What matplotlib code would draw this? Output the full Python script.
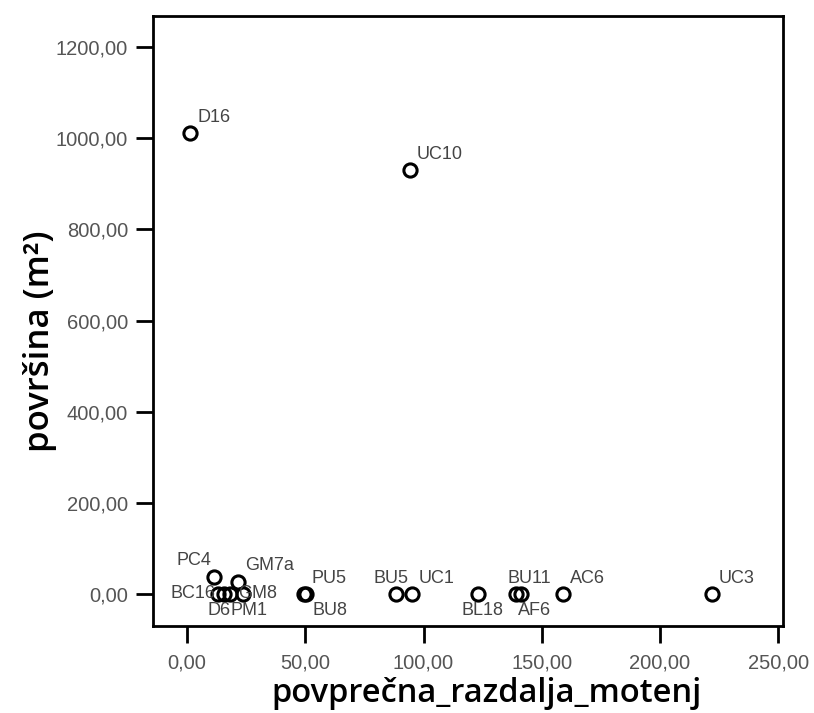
import numpy as np
import matplotlib.pyplot as plt
from matplotlib.ticker import FuncFormatter

names = ["D16", "UC10", "PC4", "GM7a", "BC16", "D6", "PM1", "GM8",
         "PU5", "BU8", "BU5", "UC1", "BL18", "BU11", "AF6", "AC6", "UC3"]
razdalja = [1.3, 94.3, 11.5, 21.5, 13.0, 15.5, 18.0, 23.5,
            49.5, 50.5, 88.4, 95.0, 123.0, 139.0, 141.0, 159.0, 222.0]
povrsina = [1012.0, 930.0, 37.0, 26.0, 1.0, 1.0, 1.0, 1.0,
            1.0, 1.0, 1.0, 1.0, 1.0, 1.0, 1.0, 1.0, 1.0]

# label offsets in points (dx, dy, ha, va)
offs = {
    "D16": (5, 5, "left", "bottom"), "UC10": (5, 5, "left", "bottom"),
    "PC4": (-2, 6, "right", "bottom"), "GM7a": (5, 6, "left", "bottom"),
    "BC16": (-2, 0, "right", "center"), "D6": (-3, -6, "center", "top"),
    "PM1": (14, -6, "center", "top"), "GM8": (-3, 0, "left", "center"),
    "PU5": (5, 5, "left", "bottom"), "BU8": (4, -6, "left", "top"),
    "BU5": (-4, 5, "center", "bottom"), "UC1": (5, 5, "left", "bottom"),
    "BL18": (3, -6, "center", "top"), "BU11": (-6, 5, "left", "bottom"),
    "AF6": (10, -6, "center", "top"), "AC6": (5, 5, "left", "bottom"),
    "UC3": (5, 5, "left", "bottom"),
}

plt.rcParams['font.family'] = ['Liberation Sans', 'DejaVu Sans']

fig = plt.figure(figsize=(8.14, 7.13), dpi=100)
ax = fig.add_axes([153/814, 87/713, 630/814, 610/713])

ax.plot(razdalja, povrsina, 'o', mfc='none', mec='black', mew=2.2, ms=9.5)

for n, x, y in zip(names, razdalja, povrsina):
    dx, dy, ha, va = offs[n]
    ax.annotate(n, (x, y), xytext=(dx, dy), textcoords='offset points',
                ha=ha, va=va, fontsize=13, color='#444444')

ax.set_xlim(-14.4, 252)
ax.set_ylim(-70, 1268)
ax.set_xticks([0, 50, 100, 150, 200, 250])
ax.set_yticks([0, 200, 400, 600, 800, 1000, 1200])
fmt = FuncFormatter(lambda v, p: ("%.2f" % v).replace(".", ","))
ax.xaxis.set_major_formatter(fmt)
ax.yaxis.set_major_formatter(fmt)

for s in ax.spines.values():
    s.set_linewidth(2)
ax.tick_params(direction='out', width=2, labelsize=14.5, labelcolor='#555555')
ax.tick_params(axis='y', length=12, pad=6)
ax.tick_params(axis='x', length=12, pad=8)

ax.set_xlabel("povprečna_razdalja_motenj", fontsize=23.5, fontweight='semibold',
              family=['Open Sans', 'DejaVu Sans'], va='baseline')
ax.set_ylabel("površina (m²)", fontsize=25, fontweight='semibold',
              family=['Open Sans', 'DejaVu Sans'], va='center')
ax.xaxis.set_label_coords(0.529, -0.125)
ax.yaxis.set_label_coords(-0.179, 0.467)

fig.savefig("out.png", dpi=100)
